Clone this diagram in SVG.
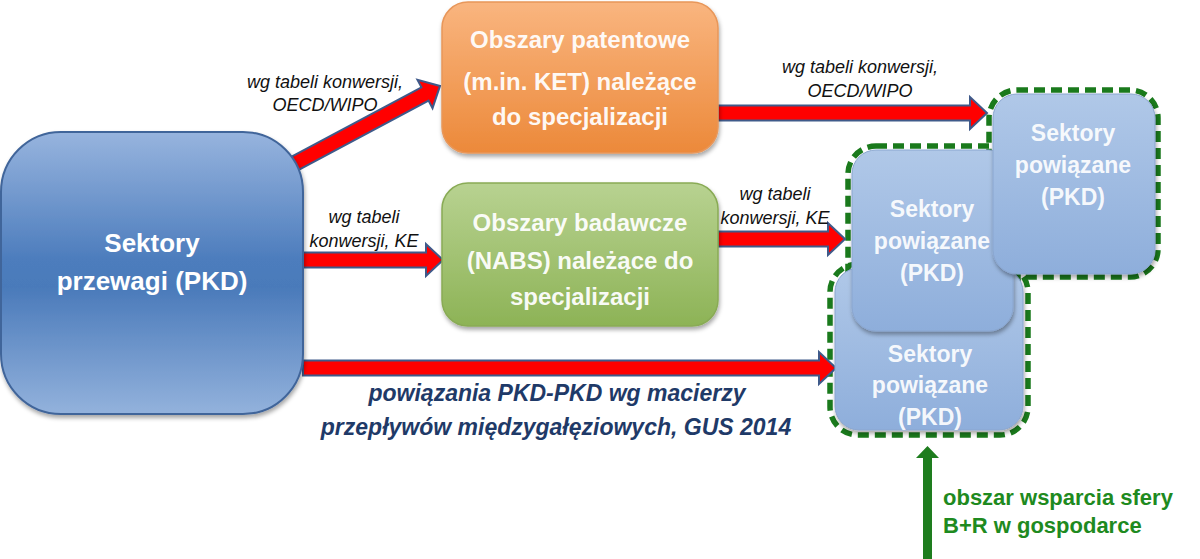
<svg xmlns="http://www.w3.org/2000/svg" width="1200" height="559" viewBox="0 0 1200 559">
<defs>
<linearGradient id="gBlue" x1="0" y1="0" x2="0" y2="1">
<stop offset="0" stop-color="#97b4de"/>
<stop offset="0.45" stop-color="#4d7dbd"/>
<stop offset="0.55" stop-color="#4a7aba"/>
<stop offset="1" stop-color="#93b2dc"/>
</linearGradient>
<linearGradient id="gOrange" x1="0" y1="0" x2="0" y2="1">
<stop offset="0" stop-color="#f9b57f"/>
<stop offset="1" stop-color="#ec893a"/>
</linearGradient>
<linearGradient id="gGreen" x1="0" y1="0" x2="0" y2="1">
<stop offset="0" stop-color="#b8d291"/>
<stop offset="1" stop-color="#8db356"/>
</linearGradient>
<linearGradient id="gLight" x1="0" y1="0" x2="0" y2="1">
<stop offset="0" stop-color="#b0c8e8"/>
<stop offset="1" stop-color="#8eaedb"/>
</linearGradient>
<filter id="sh" x="-10%" y="-10%" width="125%" height="130%">
<feDropShadow dx="1" dy="3" stdDeviation="2" flood-color="#000" flood-opacity="0.35"/>
</filter>
</defs>
<style>
.nt{font-family:"Liberation Sans",Arial,sans-serif;font-weight:bold;fill:#ffffff;text-anchor:middle}
.lb{font-family:"Liberation Sans",Arial,sans-serif;font-style:italic;font-size:18px;fill:#111;text-anchor:middle}
.big{font-family:"Liberation Sans",Arial,sans-serif;font-style:italic;font-weight:bold;font-size:23px;fill:#1f3a68;text-anchor:middle}
.arr{fill:#ff0000;stroke:#3f5a8a;stroke-width:2;stroke-linejoin:miter}
.dash{fill:none;stroke:#1a7a1c;stroke-width:5.5;stroke-dasharray:11 6}
.lbox{fill:url(#gLight);stroke:#8aa6cf;stroke-width:1}
.gt{font-family:"Liberation Sans",Arial,sans-serif;font-weight:bold;font-size:22px;fill:#1e8a20}
</style>
<rect width="1200" height="559" fill="#ffffff"/>

<g id="support-area">
<rect class="dash" x="830" y="264" width="198" height="171" rx="28"/>
<rect class="dash" x="848" y="146" width="170" height="190" rx="28"/>
<rect class="dash" x="989" y="90" width="169" height="187" rx="28"/>
</g>

<g id="connectors">
<path class="arr" transform="translate(290,166) rotate(-28.07)" d="M0,-7.5 H153 V-16 L170,0 L153,16 V7.5 H0 Z"/>
<path class="arr" d="M718,105.5 H970 V97 L987,113 L970,129 V120.5 H718 Z"/>
<path class="arr" d="M303,252.5 H426 V244 L443,260 L426,276 V267.5 H303 Z"/>
<path class="arr" d="M718,231.5 H828 V223 L845,239 L828,255 V246.5 H718 Z"/>
<path class="arr" d="M303,360.5 H819 V352 L836,368 L819,384 V375.5 H303 Z"/>
<path fill="#1e7d1e" d="M923,559 V458 H916 L927.5,446 L939,458 H932 V559 Z"/>
<text class="lb" x="325" y="88">wg tabeli konwersji,</text>
<text class="lb" x="325" y="111">OECD/WIPO</text>
<text class="lb" x="860" y="73">wg tabeli konwersji,</text>
<text class="lb" x="860" y="97">OECD/WIPO</text>
<text class="lb" x="364" y="223">wg tabeli</text>
<text class="lb" x="364" y="247">konwersji, KE</text>
<text class="lb" x="775" y="200">wg tabeli</text>
<text class="lb" x="775" y="224">konwersji, KE</text>
<text class="big" x="557" y="401">powiązania PKD-PKD wg macierzy</text>
<text class="big" x="556" y="435">przepływów międzygałęziowych, GUS 2014</text>
<text class="gt" x="943" y="505">obszar wsparcia sfery</text>
<text class="gt" x="943" y="533">B+R w gospodarce</text>
</g>

<g id="sektory-przewagi">
<rect x="1" y="132" width="302" height="282" rx="60" fill="url(#gBlue)" stroke="#41659a" stroke-width="2" filter="url(#sh)"/>
<text class="nt" x="152" y="252" font-size="26">Sektory</text>
<text class="nt" x="152" y="290" font-size="26">przewagi (PKD)</text>
</g>

<g id="obszary-patentowe">
<rect x="442" y="2" width="276" height="151" rx="26" fill="url(#gOrange)" stroke="#e8975a" stroke-width="1.5" filter="url(#sh)"/>
<text class="nt" x="580" y="48" font-size="24" fill-opacity="0.95">Obszary patentowe</text>
<text class="nt" x="580" y="90" font-size="24" fill-opacity="0.95">(m.in. KET) należące</text>
<text class="nt" x="580" y="125" font-size="24" fill-opacity="0.95">do specjalizacji</text>
</g>

<g id="obszary-badawcze">
<rect x="442" y="183" width="276" height="143" rx="26" fill="url(#gGreen)" stroke="#89ab55" stroke-width="1.5" filter="url(#sh)"/>
<text class="nt" x="580" y="231" font-size="24" fill-opacity="0.95">Obszary badawcze</text>
<text class="nt" x="580" y="269" font-size="24" fill-opacity="0.95">(NABS) należące do</text>
<text class="nt" x="580" y="305" font-size="24" fill-opacity="0.95">specjalizacji</text>
</g>

<g id="sektory-powiazane-3">
<rect class="lbox" x="835" y="268" width="188" height="162" rx="24" filter="url(#sh)"/>
<text class="nt" x="930" y="362" font-size="23" fill-opacity="0.92">Sektory</text>
<text class="nt" x="930" y="393" font-size="23" fill-opacity="0.92">powiązane</text>
<text class="nt" x="930" y="425" font-size="23" fill-opacity="0.92">(PKD)</text>
</g>

<g id="sektory-powiazane-2">
<rect class="lbox" x="852" y="150" width="161" height="181" rx="24" filter="url(#sh)"/>
<text class="nt" x="932" y="217" font-size="23" fill-opacity="0.92">Sektory</text>
<text class="nt" x="932" y="249" font-size="23" fill-opacity="0.92">powiązane</text>
<text class="nt" x="932" y="281" font-size="23" fill-opacity="0.92">(PKD)</text>
</g>

<g id="sektory-powiazane-1">
<rect class="lbox" x="993" y="94" width="162" height="180" rx="24" filter="url(#sh)"/>
<text class="nt" x="1073" y="141" font-size="23" fill-opacity="0.92">Sektory</text>
<text class="nt" x="1073" y="173" font-size="23" fill-opacity="0.92">powiązane</text>
<text class="nt" x="1073" y="205" font-size="23" fill-opacity="0.92">(PKD)</text>
</g>
</svg>
